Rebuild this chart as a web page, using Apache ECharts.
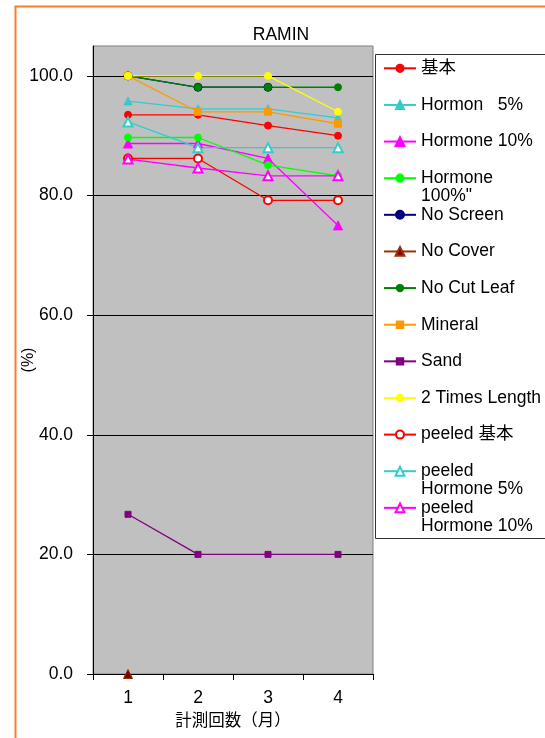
<!DOCTYPE html>
<html>
<head>
<meta charset="utf-8">
<script src="https://cdn.jsdelivr.net/npm/echarts@6/dist/echarts.min.js"></script>
<style>
  html, body { margin: 0; padding: 0; background: #fff; }
  #chart { width: 545px; height: 738px; }
</style>
</head>
<body>
<div id="chart"></div>
<script>
// Rooting survival (%) of RAMIN cuttings by treatment, per monthly count
const categories = ['1', '2', '3', '4'];
const yTicks = [0, 20, 40, 60, 80, 100];

const basic          = [93.5, 93.5, 91.7, 90.0];
const hormon5        = [95.8, 94.5, 94.5, 93.0];
const hormone10      = [88.7, 88.7, 86.2, 75.0];
const hormone100     = [89.7, 89.7, 85.1, 83.3];
const noScreen       = [100.0, 98.1, 98.1, null];
const noCover        = [0.0, null, null, null];
const noCutLeaf      = [100.0, 98.1, 98.1, 98.1];
const mineral        = [100.0, 94.0, 94.0, 92.0];
const sand           = [26.7, 20.0, 20.0, 20.0];
const twoTimesLength = [100.0, 100.0, 100.0, 94.0];
const peeledBasic    = [86.2, 86.2, 79.2, 79.2];
const peeledH5       = [92.3, 88.0, 88.0, 88.0];
const peeledH10      = [86.1, 84.6, 83.3, 83.3];

const seriesNames = ['基本', 'Hormon   5%', 'Hormone 10%', 'Hormone 100%"', 'No Screen', 'No Cover',
  'No Cut Leaf', 'Mineral', 'Sand', '2 Times Length', 'peeled 基本', 'peeled Hormone 5%', 'peeled Hormone 10%'];
const seriesData = [basic, hormon5, hormone10, hormone100, noScreen, noCover,
  noCutLeaf, mineral, sand, twoTimesLength, peeledBasic, peeledH5, peeledH10];

// Legend labels that wrap onto a second line (first line sits level with the marker)
const wrappedNames = {
  'Hormone 100%"': ['Hormone', '100%"'],
  'peeled Hormone 5%': ['peeled', 'Hormone 5%'],
  'peeled Hormone 10%': ['peeled', 'Hormone 10%']
};

// Marker / line appearance per series
const looks = [
  { line: '#ff0000', fill: '#ff0000', symbol: 'circle',        size: 7, legendH: 9 },
  { line: '#33cccc', fill: '#33cccc', symbol: 'triangle',      size: 8, legendH: 10 },
  { line: '#ff00ff', fill: '#ff00ff', symbol: 'triangle',      size: 9, legendH: 11 },
  { line: '#00ff00', fill: '#00ff00', symbol: 'circle',        size: 7, legendH: 9 },
  { line: '#000080', fill: '#000080', symbol: 'circle',        size: 8, legendH: 10 },
  { line: '#993300', fill: '#800000', symbol: 'triangle',      size: 9, legendH: 11 },
  { line: '#008000', fill: '#008000', symbol: 'circle',        size: 7, legendH: 8 },
  { line: '#ff9900', fill: '#ff9900', symbol: 'rect',          size: 7, legendH: 8 },
  { line: '#800080', fill: '#800080', symbol: 'rect',          size: 6, legendH: 8 },
  { line: '#ffff00', fill: '#ffff00', symbol: 'circle',        size: 7, legendH: 8 },
  { line: '#ff0000', fill: '#ff0000', symbol: 'emptyCircle',   size: 8, legendH: 10 },
  { line: '#33cccc', fill: '#33cccc', symbol: 'emptyTriangle', size: 9, legendH: 11 },
  { line: '#ff00ff', fill: '#ff00ff', symbol: 'emptyTriangle', size: 9, legendH: 11 }
];

const FONT = '"Liberation Sans", Arial, "Noto Sans CJK JP", sans-serif';
const CJK_FONT = '"Noto Sans CJK JP", "Liberation Sans", sans-serif';
const TEXT_SIZE = 17.5;

const series = seriesNames.map((name, i) => ({
  name: name,
  type: 'line',
  data: seriesData[i],
  symbol: looks[i].symbol,
  symbolSize: looks[i].size,
  showAllSymbol: true,
  connectNulls: false,
  animation: false,
  lineStyle: { color: looks[i].line, width: 1.3 },
  itemStyle: { color: looks[i].fill, borderColor: looks[i].line, borderWidth: 1 },
  emphasis: { disabled: true }
}));

// One legend block per entry, stacked at an even pitch inside the framed box
const rowTop = 68.3, rowStep = 36.63, lineH = 18;
const legends = seriesNames.map((name, i) => {
  const parts = wrappedNames[name];
  // a blank leading line keeps the first text line centred on the marker
  const text = parts ? ' \n' + parts.join('\n') : name;
  const markerY = rowTop + i * rowStep;
  return {
    data: [name],
    left: 383,
    top: markerY - (parts ? 1.5 * lineH : 0.5 * lineH),
    orient: 'vertical',
    padding: 0,
    itemGap: 0,
    itemWidth: 32,
    itemHeight: looks[i].legendH,
    selectedMode: false,
    formatter: () => text,
    textStyle: { fontSize: TEXT_SIZE, lineHeight: lineH, color: '#000', fontFamily: FONT }
  };
});

const chart = echarts.init(document.getElementById('chart'), null, { renderer: 'canvas' });
chart.setOption({
  animation: false,
  backgroundColor: '#ffffff',
  title: {
    text: 'RAMIN',
    left: 281,
    top: 26,
    textAlign: 'center',
    padding: 0,
    textStyle: { fontSize: TEXT_SIZE, fontWeight: 'normal', color: '#000', fontFamily: FONT }
  },
  graphic: [
    { type: 'rect', left: 13, top: 4, z: -1, silent: true,
      shape: { x: 0, y: 0, width: 620, height: 820 },
      style: { fill: 'none', stroke: '#fa7d2a', lineWidth: 2 } },
    { type: 'rect', left: 375, top: 54, z: 0, silent: true,
      shape: { x: 0.5, y: 0.5, width: 220, height: 484 },
      style: { fill: '#fff', stroke: '#333', lineWidth: 1 } }
  ],
  legend: legends,
  grid: {
    left: 93, right: 172, top: 46, bottom: 64,
    outerBoundsMode: 'none',
    containLabel: false,
    show: true, backgroundColor: '#c0c0c0', borderColor: '#808080', borderWidth: 1
  },
  xAxis: {
    type: 'category',
    data: categories,
    boundaryGap: true,
    name: '計測回数（月）',
    nameLocation: 'middle',
    nameGap: 37,
    nameMoveOverlap: false,
    nameTextStyle: { fontSize: 16.5, color: '#000', fontFamily: CJK_FONT },
    axisLine: { lineStyle: { color: '#000', width: 1 } },
    axisTick: { show: true, length: 6, alignWithLabel: false, lineStyle: { color: '#000' } },
    axisLabel: { margin: 15, fontSize: TEXT_SIZE, color: '#000', fontFamily: FONT },
    splitLine: { show: false }
  },
  yAxis: {
    type: 'value',
    min: 0,
    max: 105,
    interval: 20,
    name: '(%)',
    nameLocation: 'middle',
    nameGap: 56,
    nameMoveOverlap: false,
    nameTextStyle: { fontSize: 16, color: '#000', fontFamily: FONT },
    axisLine: { show: true, lineStyle: { color: '#000', width: 1 } },
    axisTick: { show: true, length: 6, lineStyle: { color: '#000' } },
    axisLabel: {
      margin: 20, fontSize: TEXT_SIZE, color: '#000', fontFamily: FONT,
      showMaxLabel: false,
      formatter: v => (yTicks.indexOf(v) >= 0 ? v.toFixed(1) : '')
    },
    splitLine: { show: true, showMinLine: false, showMaxLine: false, lineStyle: { color: '#000', width: 1 } }
  },
  series: series
});
</script>
</body>
</html>
